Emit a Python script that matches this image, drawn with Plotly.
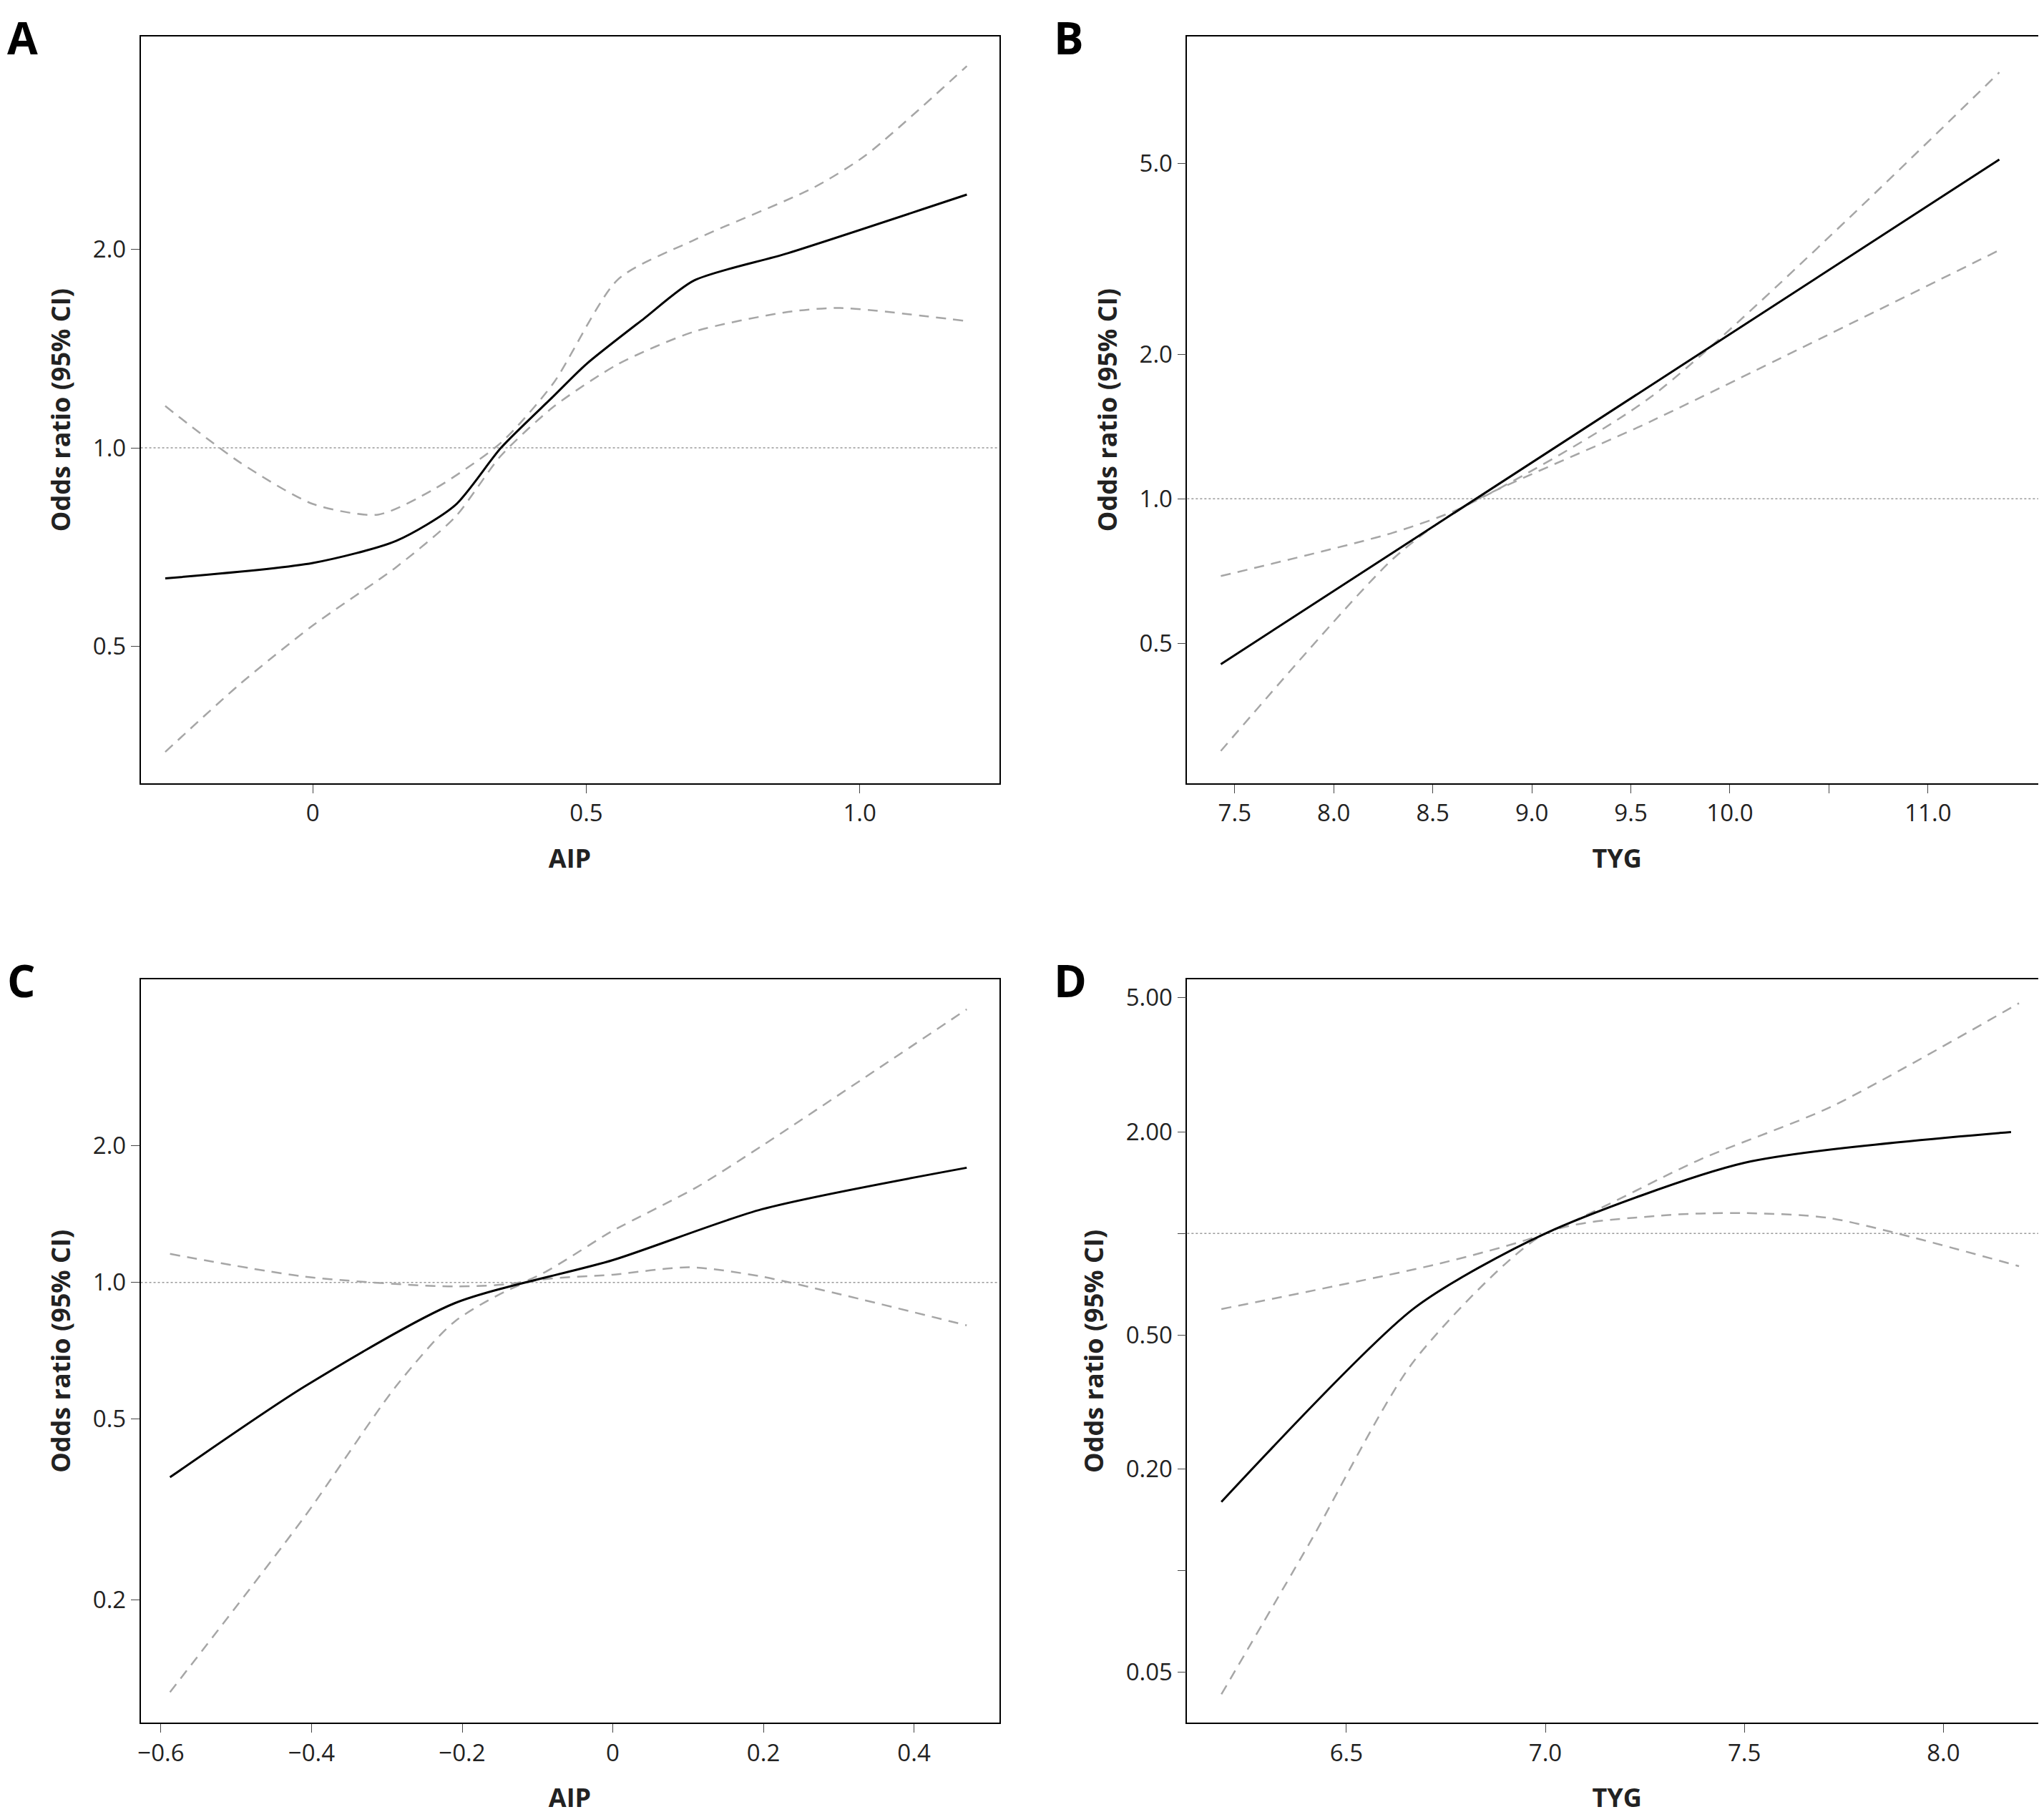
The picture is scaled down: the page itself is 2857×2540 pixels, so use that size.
import math
import plotly.graph_objects as go

# ---- data (x, odds ratio) ----
a_x = [-0.27, 0.0, 0.153, 0.26, 0.344, 0.439, 0.5, 0.606, 0.697, 0.869, 1.196]
a_or = [0.634, 0.669, 0.723, 0.818, 1.0, 1.195, 1.339, 1.571, 1.793, 1.973, 2.42]
a_up_x = [-0.27, -0.134, 0.0, 0.119, 0.224, 0.344, 0.439, 0.558, 0.697, 0.916, 1.012, 1.196]
a_up = [1.157, 0.951, 0.822, 0.792, 0.868, 1.018, 1.25, 1.80, 2.065, 2.48, 2.78, 3.79]
a_lo_x = [-0.27, -0.134, 0.0, 0.153, 0.26, 0.344, 0.439, 0.558, 0.697, 0.869, 0.964, 1.196]
a_lo = [0.346, 0.438, 0.538, 0.660, 0.785, 0.973, 1.152, 1.339, 1.50, 1.607, 1.629, 1.556]

b_x = [7.43, 11.36]
b_or = [0.452, 5.1]
b_up_x = [7.43, 8.30, 8.65, 9.60, 11.36]
b_up = [0.69, 0.85, 0.96, 1.63, 7.75]
b_lo_x = [7.43, 8.30, 8.65, 9.60, 11.36]
b_lo = [0.298, 0.75, 0.96, 1.45, 3.30]

c_x = [-0.588, -0.409, -0.21, 0.0, 0.198, 0.47]
c_or = [0.372, 0.59, 0.90, 1.12, 1.45, 1.79]
c_up_x = [-0.588, -0.409, -0.21, -0.114, 0.0, 0.111, 0.198, 0.47]
c_up = [1.156, 1.03, 0.98, 1.01, 1.30, 1.62, 2.0, 4.0]
c_lo_x = [-0.588, -0.409, -0.288, -0.21, -0.114, 0.0, 0.102, 0.198, 0.47]
c_lo = [0.125, 0.305, 0.59, 0.82, 1.0, 1.04, 1.08, 1.03, 0.804]

d_x = [6.186, 6.67, 7.0, 7.5, 8.17]
d_or = [0.16, 0.60, 1.0, 1.62, 2.0]
d_up_x = [6.186, 6.735, 7.0, 7.39, 7.716, 8.19]
d_up = [0.597, 0.815, 1.0, 1.66, 2.37, 4.82]
d_lo_x = [6.186, 6.408, 6.67, 7.0, 7.29, 7.49, 7.716, 8.19]
d_lo = [0.043, 0.121, 0.419, 1.0, 1.13, 1.15, 1.11, 0.80]

panels = [
    dict(letter="A", xt="AIP", xr=[-0.315, 1.255], yr=[0.31, 4.2],
         xtv=[0, 0.5, 1.0], xtt=["0", "0.5", "1.0"],
         ytv=[0.5, 1.0, 2.0], ytt=["0.5", "1.0", "2.0"],
         main=(a_x, a_or), up=(a_up_x, a_up), lo=(a_lo_x, a_lo)),
    dict(letter="B", xt="TYG", xr=[7.26, 11.6], yr=[0.255, 9.2],
         xtv=[7.5, 8, 8.5, 9, 9.5, 10, 10.5, 11], xtt=["7.5", "8.0", "8.5", "9.0", "9.5", "10.0", "", "11.0"],
         ytv=[0.5, 1.0, 2.0, 5.0], ytt=["0.5", "1.0", "2.0", "5.0"],
         main=(b_x, b_or), up=(b_up_x, b_up), lo=(b_lo_x, b_lo)),
    dict(letter="C", xt="AIP", xr=[-0.627, 0.513], yr=[0.107, 4.65],
         xtv=[-0.6, -0.4, -0.2, 0, 0.2, 0.4], xtt=["−0.6", "−0.4", "−0.2", "0", "0.2", "0.4"],
         ytv=[0.2, 0.5, 1.0, 2.0], ytt=["0.2", "0.5", "1.0", "2.0"],
         main=(c_x, c_or), up=(c_up_x, c_up), lo=(c_lo_x, c_lo)),
    dict(letter="D", xt="TYG", xr=[6.10, 8.26], yr=[0.0354, 5.66],
         xtv=[6.5, 7.0, 7.5, 8.0], xtt=["6.5", "7.0", "7.5", "8.0"],
         ytv=[0.05, 0.1, 0.2, 0.5, 1.0, 2.0, 5.0], ytt=["0.05", "", "0.20", "0.50", "", "2.00", "5.00"],
         main=(d_x, d_or), up=(d_up_x, d_up), lo=(d_lo_x, d_lo)),
]

xdoms = [[0.066, 0.486], [0.578, 0.9986]]
ydoms = [[0.572, 0.983], [0.055, 0.464]]

fig = go.Figure()
for i, p in enumerate(panels):
    n = "" if i == 0 else str(i + 1)
    xa, ya = "x" + n, "y" + n
    xd = xdoms[i % 2]
    yd = ydoms[i // 2]
    fig.add_trace(go.Scatter(x=list(p["xr"]), y=[1, 1], xaxis=xa, yaxis=ya, mode="lines",
                             line=dict(color="#999999", width=1.5, dash="dot"), showlegend=False))
    for key, col, dash, w in [("up", "#a6a6a6", "14px,10px", 2.5), ("lo", "#a6a6a6", "14px,10px", 2.5),
                              ("main", "black", "solid", 3)]:
        xs, ys = p[key]
        fig.add_trace(go.Scatter(x=xs, y=ys, xaxis=xa, yaxis=ya, mode="lines",
                                 line=dict(color=col, width=w, dash=dash, shape="spline", smoothing=0.7),
                                 showlegend=False))
    ax = dict(domain=xd, range=p["xr"], tickvals=p["xtv"], ticktext=p["xtt"], ticks="outside",
              ticklen=12, showline=True, mirror=True, linecolor="black", linewidth=1.5,
              showgrid=False, zeroline=False, anchor=ya, automargin=False,
              title=dict(text="<b>" + p["xt"] + "</b>", standoff=30, font=dict(size=36)))
    ay = dict(domain=yd, type="log", range=[math.log10(v) for v in p["yr"]],
              tickvals=p["ytv"], ticktext=p["ytt"], ticks="outside", ticklen=12,
              showline=True, mirror=True, linecolor="black", linewidth=1.5,
              showgrid=False, zeroline=False, anchor=xa, automargin=False,
              title=dict(text="<b>Odds ratio (95% CI)</b>", standoff=20, font=dict(size=36)))
    fig.update_layout({("xaxis" + n): ax, ("yaxis" + n): ay})
    fig.add_annotation(text="<b>" + p["letter"] + "</b>", xref="paper", yref="paper",
                       x=xd[0] - 0.066, y=yd[1] + 0.017, xanchor="left", yanchor="top",
                       showarrow=False, font=dict(size=62, color="black"))

fig.update_layout(width=2857, height=2540, margin=dict(l=0, r=0, t=0, b=0),
                  paper_bgcolor="white", plot_bgcolor="white",
                  font=dict(family="Open Sans", size=33, color="#222222"))
fig.write_html("out.html")
